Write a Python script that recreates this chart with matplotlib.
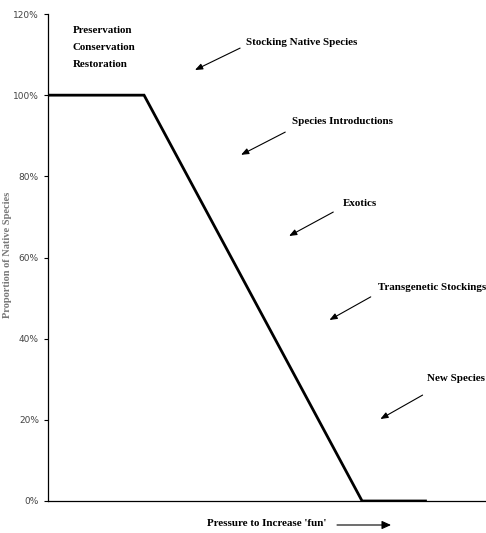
import matplotlib
matplotlib.use("Agg")
import matplotlib.pyplot as plt
from matplotlib.patches import FancyArrowPatch
from matplotlib.ticker import PercentFormatter

# main curve: share of native integrity vs pressure
x_pts = [0, 1, 3.27, 3.93]
y_pts = [100, 100, 0, 0]

# annotation labels: text anchor, arrow tail, arrow head (data coords)
labels = ["Stocking Native Species", "Species Introductions", "Exotics",
          "Transgenetic Stockings", "New Species"]
text_x = [2.06, 2.54, 3.07, 3.44, 3.95]
text_y = [112.9, 93.6, 73.4, 52.7, 30.1]
tail_x = [2.00, 2.47, 2.97, 3.36, 3.90]
tail_y = [111.6, 90.9, 71.2, 50.3, 26.1]
head_x = [1.53, 2.01, 2.51, 2.93, 3.46]
head_y = [106.2, 85.3, 65.3, 44.6, 20.2]

yticks = [0, 20, 40, 60, 80, 100, 120]

fig = plt.figure(figsize=(4.86, 5.33), dpi=100)
ax = fig.add_axes([48/486, 1 - 501/533, 1 - 48/486, (501 - 14)/533])

ax.plot(x_pts, y_pts, color="black", lw=2.0, solid_joinstyle="miter")

serif = dict(family="Liberation Serif", fontweight="bold", fontsize=7.9)

ax.text(0.26, 117.0, "Preservation\nConservation\nRestoration", va="top",
        ha="left", multialignment="left", linespacing=2.1, **serif)

for lab, tx, ty, ax0, ay0, hx, hy in zip(labels, text_x, text_y, tail_x, tail_y, head_x, head_y):
    ax.text(tx, ty, lab, ha="left", va="center", **serif)
    ax.annotate("", xy=(hx, hy), xytext=(ax0, ay0),
                arrowprops=dict(arrowstyle="-|>,head_length=0.45,head_width=0.18",
                                color="black", lw=0.8, shrinkA=0, shrinkB=0))

ax.set_xlim(0, 4.56)
ax.set_ylim(0, 120)
ax.set_yticks(yticks)
ax.yaxis.set_major_formatter(PercentFormatter(decimals=0))
ax.set_xticks([])
ax.tick_params(axis="y", labelsize=6.5, labelcolor="#444444", length=3, width=0.8, direction="out")
for lab in ax.get_yticklabels():
    lab.set_family("DejaVu Sans")
for s in ["top", "right"]:
    ax.spines[s].set_visible(False)
ax.spines["left"].set_linewidth(0.9)
ax.spines["bottom"].set_linewidth(0.9)

# x label with arrow
fig.text(267/486, 1 - 524/533, "Pressure to Increase 'fun'", ha="center", va="center", **serif)
fig.add_artist(FancyArrowPatch(
    (337/486, 1 - 525/533), (391/486, 1 - 525/533), transform=fig.transFigure,
    arrowstyle="-|>,head_length=0.55,head_width=0.25", mutation_scale=10,
    color="black", lw=0.8, shrinkA=0, shrinkB=0))

# y label (blurred in original)
fig.text(8/486, 1 - 255/533, "Proportion of Native Species", rotation=90,
         ha="center", va="center", color="#777777", fontsize=7.5,
         family="Liberation Serif", fontweight="bold")

fig.savefig("out.png", dpi=100)
